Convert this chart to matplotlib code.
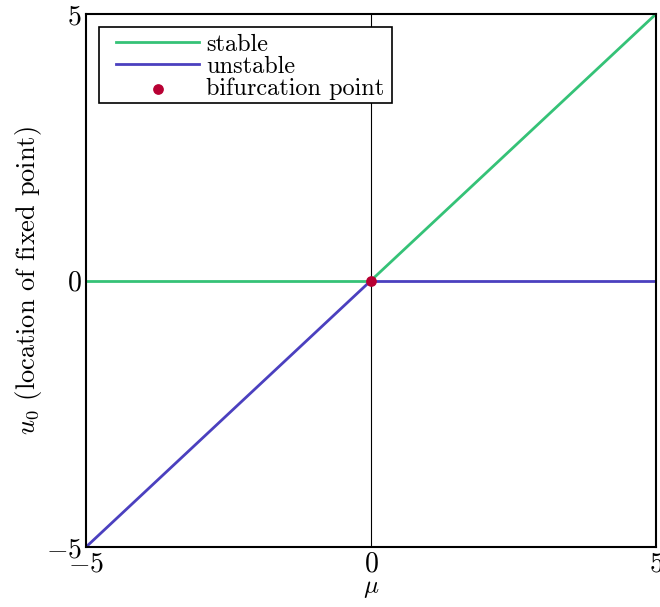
import matplotlib
matplotlib.use("Agg")
from matplotlib import pyplot as plt
from matplotlib.patches import Rectangle

plt.rcParams['font.family'] = 'serif'
plt.rcParams['font.serif'] = ['cmr10']
plt.rcParams['mathtext.fontset'] = 'cm'
plt.rcParams['axes.formatter.use_mathtext'] = True

# branches of the transcritical bifurcation
mu_left = [-5, 0]
mu_right = [0, 5]
stable_left = [0, 0]
stable_right = [0, 5]
unstable_left = [-5, 0]
unstable_right = [0, 0]
bif_mu = [0]
bif_u = [0]

green = '#35c277'
blue = '#4b40bf'
red = '#b80033'

fig = plt.figure(figsize=(6.6, 6.07), dpi=100)
ax = fig.add_axes([0.1303, 0.0988, 0.8636, 0.8781])

ax.axvline(0, color='black', lw=0.8, zorder=1)
ax.plot(mu_left, stable_left, color=green, lw=2, label='stable')
ax.plot(mu_right, stable_right, color=green, lw=2)
ax.plot(mu_left, unstable_left, color=blue, lw=2, label='unstable')
ax.plot(mu_right, unstable_right, color=blue, lw=2)
ax.scatter(bif_mu, bif_u, color=red, s=45, zorder=5, label='bifurcation point')

ax.set_xlim(-5, 5)
ax.set_ylim(-5, 5)
ax.set_xticks([-5, 0, 5])
ax.set_yticks([-5, 0, 5])
ax.tick_params(length=0, pad=3, labelsize=20)
for s in ax.spines.values():
    s.set_linewidth(1.5)

ax.set_xlabel(r'$\mu$', fontsize=18, labelpad=0)
ax.set_ylabel(r'$u_0$ (location of fixed point)', fontsize=19, labelpad=1)

# legend frame drawn separately to get the wider side padding
frame = Rectangle((0.0228, 0.833), 0.514, 0.1426, transform=ax.transAxes,
                  facecolor='white', edgecolor='black', lw=1.2, zorder=8)
ax.add_patch(frame)
leg = ax.legend(loc='upper left', bbox_to_anchor=(0.0193, 1.0), fontsize=17.5,
                frameon=False, borderaxespad=0.55, handlelength=3.4,
                handletextpad=0.3, labelspacing=0.0, borderpad=0.25,
                scatterpoints=1)
leg.set_zorder(9)

plt.savefig('out.png', dpi=100)
